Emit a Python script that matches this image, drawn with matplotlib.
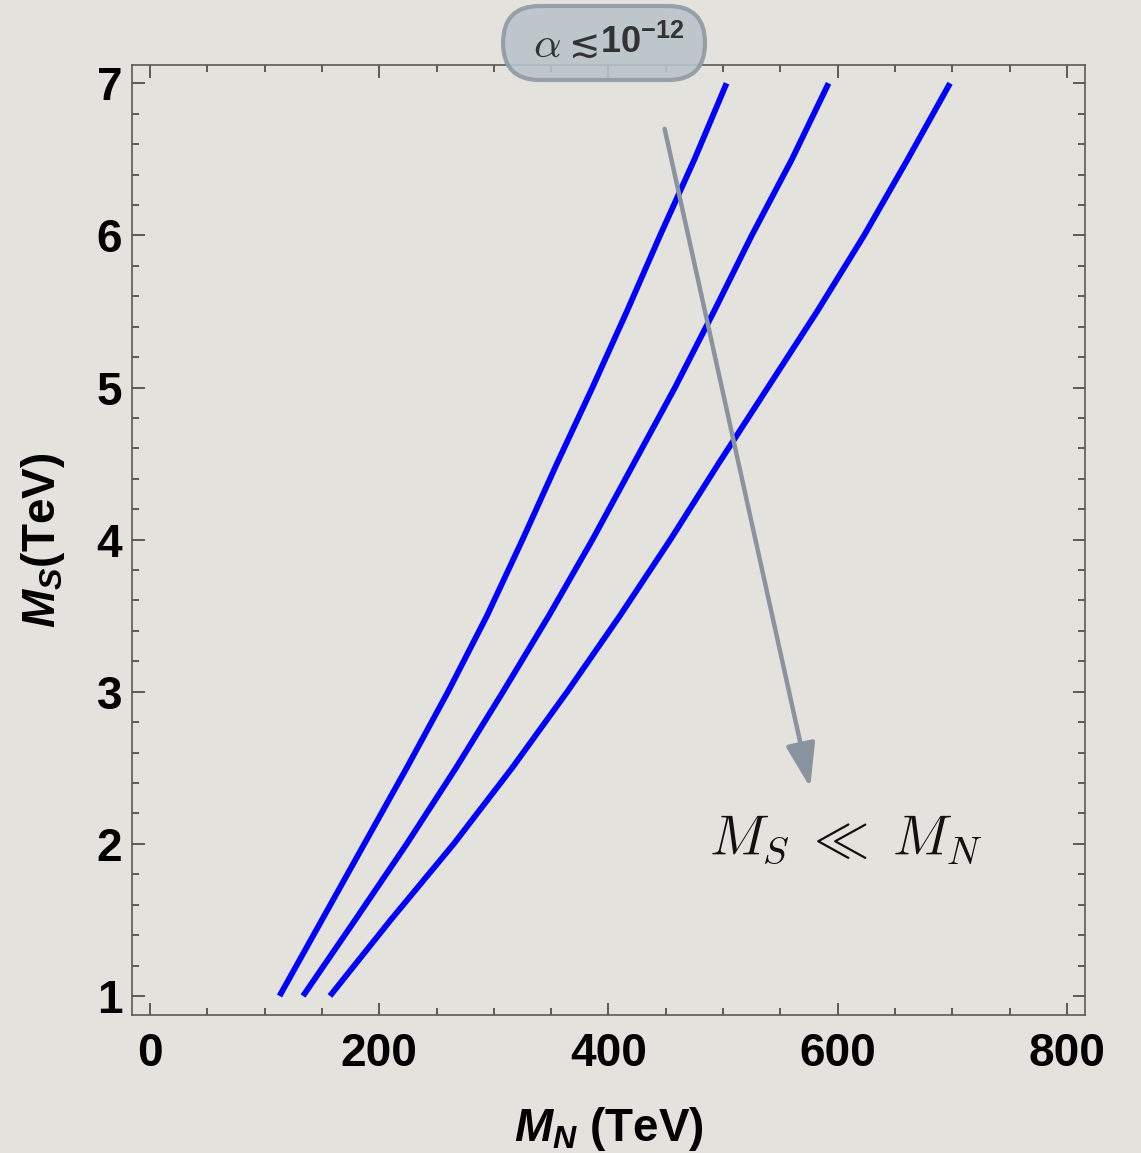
"""M_S vs M_N contours for alpha <~ 1e-12."""

import matplotlib
matplotlib.use("Agg")
import matplotlib.pyplot as plt
from matplotlib.patches import FancyBboxPatch, FancyArrowPatch
from matplotlib.ticker import MultipleLocator

# Data (M_N in TeV at given M_S in TeV)
ms_grid = [1.0, 1.5, 2.0, 2.5, 3.0, 3.5, 4.0, 4.5, 5.0, 5.5, 6.0, 6.5, 7.0]
mn_curve1 = [113, 150, 187, 224, 260, 294, 325, 355, 386, 416, 445, 475, 503]
mn_curve2 = [133.5, 179, 224, 267, 308, 348, 386, 422, 458, 492, 525, 560, 592]
mn_curve3 = [157, 210, 265, 316, 364, 410, 454, 496, 539, 582, 623, 661, 698]

arrow_start = (449, 6.70)
arrow_end = (576, 2.37)

bg = "#e4e2dd"
plt.rcParams["font.family"] = ["Liberation Sans", "DejaVu Sans"]
plt.rcParams["font.weight"] = "bold"
plt.rcParams["mathtext.fontset"] = "custom"
plt.rcParams["mathtext.it"] = "Liberation Sans:italic:bold"
plt.rcParams["mathtext.rm"] = "Liberation Sans:bold"
plt.rcParams["mathtext.bf"] = "Liberation Sans:bold"

fig = plt.figure(figsize=(11.41, 11.53), dpi=100, facecolor=bg)
ax = fig.add_axes([0.1157, 0.1197, 0.8352, 0.8239])
ax.set_facecolor(bg)

for mn in (mn_curve1, mn_curve2, mn_curve3):
    ax.plot(mn, ms_grid, color="#0000ff", lw=4.2, solid_capstyle="butt",
            solid_joinstyle="round", zorder=3)

ax.set_xlim(-15.7, 815.7)
ax.set_ylim(0.875, 7.12)

# Frame and ticks (Mathematica-style)
for sp in ax.spines.values():
    sp.set_color("#5a5a5a")
    sp.set_linewidth(1.2)
ax.xaxis.set_major_locator(MultipleLocator(200))
ax.xaxis.set_minor_locator(MultipleLocator(50))
ax.yaxis.set_major_locator(MultipleLocator(1))
ax.yaxis.set_minor_locator(MultipleLocator(0.2))
ax.tick_params(which="both", direction="in", top=True, right=True,
               color="#444444", width=1.2)
ax.tick_params(which="major", length=9)
ax.tick_params(which="minor", length=5)
ax.tick_params(axis="x", which="major", labelsize=33, pad=12)
ax.tick_params(axis="y", which="major", labelsize=33, pad=7)
for lbl in ax.get_xticklabels() + ax.get_yticklabels():
    lbl.set_fontweight("bold")

ax.set_xlabel(r"$M_N$ (TeV)", fontsize=33, fontweight="bold")
ax.set_ylabel(r"$M_S$(TeV)", fontsize=33, fontweight="bold")
ax.xaxis.set_label_coords(0.5, -0.095)
ax.yaxis.set_label_coords(-0.068, 0.5)

# Arrow and annotation
arr = FancyArrowPatch(arrow_start, arrow_end,
                      arrowstyle="-|>,head_length=0.9,head_width=0.3",
                      mutation_scale=30, color="#8a949e", lw=3.2,
                      shrinkA=0, shrinkB=0, zorder=4)
ax.add_patch(arr)
ax.text(488, 1.93, r"$M_S \;\ll\; M_N$", fontsize=40, math_fontfamily="cm",
        ha="left", va="baseline", color="#111111")

# Title pill
pill = FancyBboxPatch((0.4409, 0.9306), 0.1770, 0.0642,
                      boxstyle="round,pad=0,rounding_size=0.032",
                      transform=fig.transFigure, facecolor="#b9c3ca",
                      edgecolor="#8f9aa3", lw=3, alpha=0.9, zorder=5)
fig.patches.append(pill)
fig.text(0.4671, 0.9600, r"$\alpha$", fontsize=31, math_fontfamily="cm",
         ha="left", va="center", color="#333333", zorder=6)
fig.text(0.4975, 0.9595, "\u2272", fontsize=27, family="DejaVu Sans",
         fontweight="normal", ha="left", va="center", color="#333333", zorder=6)
fig.text(0.5262, 0.9625, r"$\mathbf{10^{-12}}$", fontsize=26,
         ha="left", va="center", color="#333333", zorder=6)

fig.savefig("out.png", dpi=100, facecolor=bg)
